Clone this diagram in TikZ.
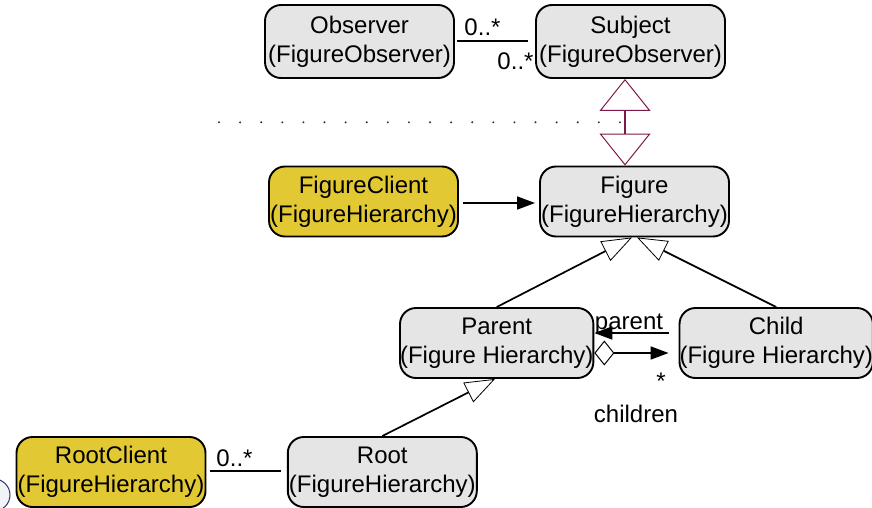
\documentclass[tikz,border=0pt]{standalone}
\usepackage{fontspec}
\setmainfont{Liberation Sans}
\usetikzlibrary{arrows.meta}

\definecolor{classgray}{RGB}{229,229,229}
\definecolor{clientyellow}{RGB}{226,201,52}
\definecolor{linkred}{RGB}{125,25,70}
\definecolor{sealblue}{RGB}{40,55,115}

\tikzset{
  classbox/.style={draw, line width=1.9pt, rounded corners=16pt, fill=classgray,
    minimum width=189pt, minimum height=70pt, inner sep=0pt, align=center,
    font=\fontsize{24}{29}\selectfont,
    execute at begin node={\rule{0pt}{22.5pt}}},
  clientbox/.style={classbox, fill=clientyellow},
  lbl/.style={inner sep=0pt, anchor=base, font=\fontsize{24}{29}\selectfont},
  assoc/.style={line width=1.7pt},
  nav/.style={line width=1.7pt, -{Triangle[length=18pt,width=13pt]}},
  inherit/.style={line width=1.7pt,
    -{Triangle[open,length=30pt,width=22pt,line width=0.8pt,fill=white]}},
  dualinherit/.style={draw=linkred, line width=1.2pt,
    {Triangle[open,length=32pt,width=51pt,line width=1pt,fill=white]}-{Triangle[open,length=32pt,width=51pt,line width=1pt,fill=white]}},
  aggr/.style={line width=1.7pt,
    {Diamond[open,length=20pt,width=25pt,line width=1pt,fill=white]}-{Triangle[length=18pt,width=13pt]}},
}

\begin{document}
\begin{tikzpicture}[x=1pt,y=-1pt]
  \useasboundingbox (0,0) rectangle (872,508);

  % partial seal at the lower left corner
  \draw[sealblue, line width=1pt, fill=sealblue!6] (-6,495) circle (16);

  % classes
  \node[classbox, minimum height=73pt] (observer) at (359.5,41.5) {Observer\\(FigureObserver)};
  \node[classbox, minimum height=73pt] (subject)  at (630.5,41.5) {Subject\\(FigureObserver)};
  \node[clientbox] (figclient) at (363.5,201.5) {FigureClient\\(FigureHierarchy)};
  \node[classbox]  (figure)    at (634.5,201.5) {Figure\\(FigureHierarchy)};
  \node[classbox]  (parent)    at (496.7,343)   {Parent\\(Figure Hierarchy)};
  \node[classbox]  (child)     at (776.2,343)   {Child\\(Figure Hierarchy)};
  \node[clientbox] (rootclient) at (111,472)    {RootClient\\(FigureHierarchy)};
  \node[classbox]  (root)      at (382.3,472)   {Root\\(FigureHierarchy)};

  % dotted separator between the two packages
  \foreach \i in {0,...,19}
    \fill[black!80] (219+21.1*\i,122.3) circle (1.1);

  % Observer -- Subject
  \draw[assoc, shorten <=2pt, shorten >=7pt] (observer.east |- 0,41) -- (subject.west |- 0,41);
  \node[lbl] (obsmult) at (482.5,36) {0..*};
  \node[lbl] (submult) at (515.5,70) {0..*};

  % Subject <-> Figure
  \coordinate (subjfoot) at (subject.south -| 625,0);
  \coordinate (figtop) at (figure.north -| 625,0);
  \draw[dualinherit] (subjfoot) -- (figtop);

  % FigureClient -> Figure
  \draw[nav, shorten <=4pt, shorten >=4pt] (figclient.east |- 0,203) -- (figure.west |- 0,203);

  % generalisations
  \coordinate (figfootL) at (figure.south -| 632,0);
  \coordinate (figfootR) at (figure.south -| 637,0);
  \draw[inherit] (parent.north) -- (figfootL);
  \draw[inherit] (child.north) -- (figfootR);
  \coordinate (parfoot) at (parent.south -| 495,0);
  \draw[inherit] (root.north) -- (parfoot);

  % parent / children associations
  \draw[nav, shorten <=10pt] (child.west |- 0,333) -- (parent.east |- 0,333);
  \node[lbl] (parentlbl) at (629,329) {parent};
  \draw[aggr, shorten >=10pt] (parent.east |- 0,353) -- (child.west |- 0,353);
  \node[lbl] (childmult) at (661,389) {*};
  \node[lbl] (childrenlbl) at (636,422) {children};

  % RootClient -- Root
  \draw[assoc, shorten <=4pt, shorten >=6pt] (rootclient.east |- 0,471) -- (root.west |- 0,471);
  \node[lbl] (rootmult) at (234.5,466) {0..*};
\end{tikzpicture}
\end{document}
